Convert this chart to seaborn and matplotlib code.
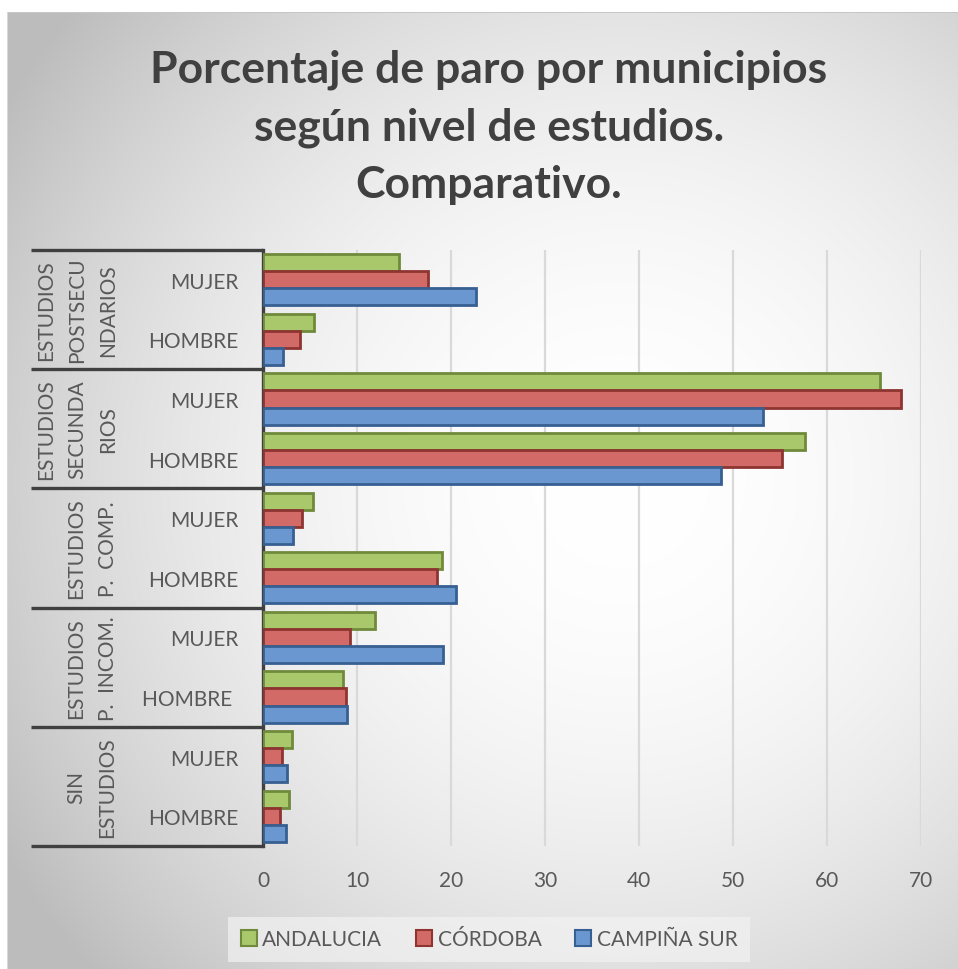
import numpy as np
import pandas as pd
import matplotlib
matplotlib.use("Agg")
import matplotlib.pyplot as plt
import seaborn as sns
from matplotlib.patches import Patch
from matplotlib.lines import Line2D

# ---------------- data ----------------
groups = ["ESTUDIOS\nPOSTSECU\nNDARIOS", "ESTUDIOS\nSECUNDA\nRIOS",
          "ESTUDIOS\nP.  COMP.", "ESTUDIOS\nP.  INCOM.", "SIN\nESTUDIOS"]
sexes = ["MUJER", "HOMBRE"]
series = ["ANDALUCIA", "CÓRDOBA", "CAMPIÑA SUR"]
andalucia = [14.5, 5.4, 65.6, 57.7, 5.3, 19.0, 11.9, 8.5, 3.1, 2.8]
cordoba = [17.5, 3.9, 67.9, 55.2, 4.1, 18.5, 9.3, 8.8, 2.0, 1.8]
campina = [22.7, 2.1, 53.2, 48.7, 3.2, 20.5, 19.1, 8.9, 2.5, 2.4]
xticks = [0, 10, 20, 30, 40, 50, 60, 70]
title = "Porcentaje de paro por municipios\nsegún nivel de estudios.\nComparativo."

face_colors = ["#a9c86c", "#d26a67", "#6b97d0"]
edge_colors = ["#6f8a3a", "#8e3431", "#375f92"]

cats = []
for gi in range(len(groups)):
    for s in sexes:
        cats.append(f"{gi}-{s}")
rows = []
for name, vals in zip(series, [andalucia, cordoba, campina]):
    for c, v in zip(cats, vals):
        rows.append({"cat": c, "serie": name, "value": v})
df = pd.DataFrame(rows)

# ---------------- figure ----------------
sns.set_theme(style="white")
plt.rcParams['font.family'] = ['Lato', 'DejaVu Sans']
W, H = 958, 970
fig = plt.figure(figsize=(W / 100, H / 100), dpi=100)

# background radial gradient
bg = fig.add_axes([0, 0, 1, 1], zorder=-10)
yy, xx = np.mgrid[0:H, 0:W]
d = np.hypot(xx - 620, (yy - 480) * 1.0)
t = np.clip(d / 720, 0, 1)
v = 1 - 0.26 * t ** 2
v[:13, :] = 1.0
v[:, :7] = 1.0
v[13, 7:] = 0.78
v[13:, 7] = 0.85
bg.imshow(np.dstack([v, v, v]), extent=(0, W, H, 0), aspect="auto", interpolation="bilinear")
bg.set_xlim(0, W)
bg.set_ylim(H, 0)
bg.axis("off")

left_px, right_px = 263, 921
top_px, bot_px = 251, 847
ax = fig.add_axes([left_px / W, 1 - bot_px / H, (right_px - left_px) / W, (bot_px - top_px) / H])
ax.patch.set_alpha(0)

sns.barplot(data=df, y="cat", x="value", hue="serie", order=cats, hue_order=series,
            palette=face_colors, orient="h", width=0.86, ax=ax, legend=False,
            saturation=1, linewidth=2.0, zorder=3)
for cont, ec in zip(ax.containers, edge_colors):
    for bar in cont:
        bar.set_edgecolor(ec)

ax.set_xlim(0, 70)
ax.set_ylim(len(cats) - 0.5, -0.5)
ax.set_xticks(xticks)
ax.set_xticklabels([str(x) for x in xticks])
ax.set_yticks(range(len(cats)))
ylabels = []
for gi in range(len(groups)):
    for s in sexes:
        ylabels.append(s + (" " if (gi == 3 and s == "HOMBRE") else ""))
ax.set_yticklabels(ylabels)
ax.set_xlabel("")
ax.set_ylabel("")
ax.tick_params(axis="x", length=0, pad=17, labelsize=15, labelcolor="#595959")
ax.tick_params(axis="y", length=0, pad=18, labelsize=15, labelcolor="#595959")
ax.grid(axis="x", color="#d9d9d9", linewidth=1.6, zorder=0)
ax.grid(axis="y", visible=False)
for sp in ["top", "right", "bottom"]:
    ax.spines[sp].set_visible(False)
ax.spines["left"].set_color("#404040")
ax.spines["left"].set_linewidth(2.4)

# table lines for multi-level category axis
tr = ax.get_yaxis_transform()
x_left = (31 - left_px) / (right_px - left_px)
for b in np.arange(-0.5, len(cats), 2):
    ax.add_line(Line2D([x_left, 0], [b, b], transform=tr, color="#404040",
                       linewidth=2.4, clip_on=False, solid_capstyle="butt"))

for gi, g in enumerate(groups):
    nlines = g.count("\n") + 1
    cx = 77 if nlines == 3 else 92
    ax.text((cx - left_px) / (right_px - left_px), 2 * gi + 0.5, g, transform=tr,
            rotation=90, ha="center", va="center", multialignment="center",
            fontsize=15, color="#595959", linespacing=1.7, clip_on=False)

fig.text(489 / W, 1 - 127 / H, title, ha="center", va="center", fontsize=32,
         fontweight="bold", color="#404040", linespacing=1.52)

handles = [Patch(facecolor=fc, edgecolor=ec, linewidth=1.5, label=s)
           for fc, ec, s in zip(face_colors, edge_colors, series)]
leg = fig.legend(handles=handles, loc="center", bbox_to_anchor=(489 / W, 1 - 940 / H),
                 ncol=3, frameon=True, fontsize=15, labelcolor="#595959",
                 handlelength=0.8, handleheight=0.8, handletextpad=0.25,
                 columnspacing=1.6, borderpad=0.6, fancybox=False)
leg.get_frame().set_facecolor("#f2f2f2")
leg.get_frame().set_alpha(0.7)
leg.get_frame().set_edgecolor("none")

fig.savefig("out.png", dpi=100)
